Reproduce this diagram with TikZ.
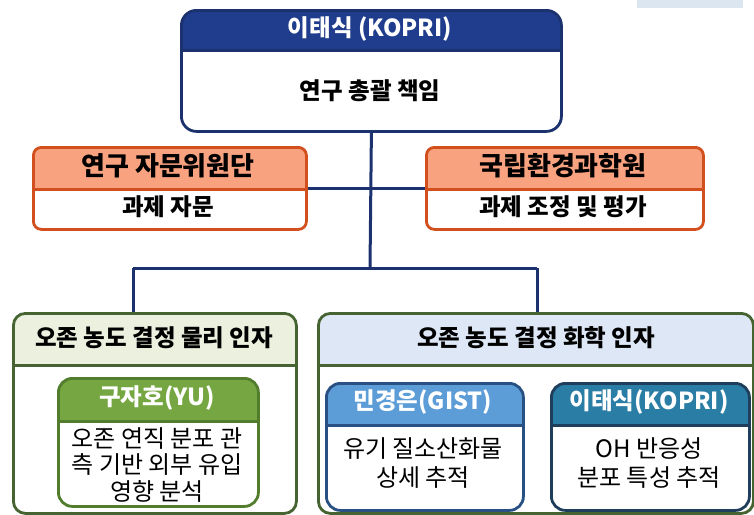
\documentclass[tikz,border=0pt]{standalone}
\usepackage{fontspec}
\setmainfont{Noto Sans CJK KR}
\usetikzlibrary{calc}
\definecolor{navy}{RGB}{28,50,110}
\definecolor{navyfill}{RGB}{32,60,140}
\definecolor{orbord}{RGB}{210,80,30}
\definecolor{orfill}{RGB}{248,162,128}
\definecolor{gbord}{RGB}{70,100,50}
\definecolor{gfill}{RGB}{235,241,222}
\definecolor{bfill}{RGB}{221,231,246}
\definecolor{igbord}{RGB}{82,125,45}
\definecolor{igfill}{RGB}{118,166,66}
\definecolor{mbord}{RGB}{40,80,130}
\definecolor{mfill}{RGB}{92,156,215}
\definecolor{lbord}{RGB}{30,62,92}
\definecolor{lfill}{RGB}{42,125,165}
\definecolor{artif}{RGB}{220,230,240}
\begin{document}
\begin{tikzpicture}[x=1pt,y=-1pt,
  hbox/.style n args={4}{anchor=north west, inner sep=0pt, draw=#1, fill=white,
    line width=2.8pt, rounded corners=#4,
    path picture={
      \fill[#2, sharp corners] ([shift={(-6pt,6pt)}]path picture bounding box.north west)
        rectangle ([shift={(6pt,-#3pt)}]path picture bounding box.north east);
      \draw[#1, line width=2.8pt, sharp corners] ([shift={(-6pt,-#3pt)}]path picture bounding box.north west)
        -- ([shift={(6pt,-#3pt)}]path picture bounding box.north east);
    }},
  hb/.style={font=\bfseries\fontsize{23.5}{26}\selectfont, inner sep=0pt},
  hbo/.style={font=\bfseries\fontsize{26}{28}\selectfont, inner sep=0pt},
  bt/.style={font=\fontsize{24}{26.5}\selectfont, inner sep=0pt, align=center},
  conn/.style={draw=navy, line width=3pt}
]
\useasboundingbox (0,0) rectangle (754,514);
\fill[artif] (637,0) rectangle (743,8);

% connector points
\coordinate (bus) at (370,268);
\coordinate (busL) at (133,268);
\coordinate (busR) at (537,268);
\coordinate (mid) at (370,188);

% top box
\node[hbox={navy}{navyfill}{40}{15pt}, minimum width=380pt, minimum height=121pt] (top) at (180,9) {};
\draw[conn] (top.south) -- (bus);
\draw[conn] (busL) -- (busR);

% advisory boxes
\node[hbox={orbord}{orfill}{42}{8pt}, minimum width=273pt, minimum height=82pt] (adv) at (32,146) {};
\node[hbox={orbord}{orfill}{42}{8pt}, minimum width=277pt, minimum height=82pt] (nier) at (425,146) {};
\draw[conn] (adv.east |- mid) -- (nier.west |- mid);

% bottom boxes
\node[hbox={gbord}{gfill}{52}{12pt}, minimum width=283pt, minimum height=200pt] (phys) at (12,312) {};
\node[hbox={gbord}{bfill}{52}{12pt}, minimum width=435pt, minimum height=200pt] (chem) at (317,312) {};
\draw[conn] (busL) -- (busL |- phys.north);
\draw[conn] (busR) -- (busR |- chem.north);

\node[hbox={igbord}{igfill}{43}{14pt}, minimum width=200pt, minimum height=128pt] (gu) at (57,377) {};
\node[hbox={mbord}{mfill}{42}{14pt}, minimum width=197pt, minimum height=127pt] (min) at (325,382) {};
\node[hbox={lbord}{lfill}{42}{14pt}, minimum width=198pt, minimum height=127pt] (lee) at (550,382) {};

% texts
\node[hb, white] (topH) at (370,29) {이태식 (KOPRI)};
\node[hb] (topB) at (370,91) {연구 총괄 책임};
\node[hbo] (advH) at (168,166) {연구 자문위원단};
\node[hb] (advB) at (168,207) {과제 자문};
\node[hbo] (nierH) at (563,166) {국립환경과학원};
\node[hb] (nierB) at (563,207) {과제 조정 및 평가};
\node[hb] (physH) at (154,338) {오존 농도 결정 물리 인자};
\node[hb] (chemH) at (536,338) {오존 농도 결정 화학 인자};
\node[hb, white] (guH) at (157,398) {구자호(YU)};
\node[bt] (guB) at (157,465) {오존 연직 분포 관\\측 기반 외부 유입\\영향 분석};
\node[hb, white] (minH) at (423,402) {민경은(GIST)};
\node[bt] (minB) at (423,463) {유기 질소산화물\\[2.5pt]상세 추적};
\node[hb, white] (leeH) at (649,402) {이태식(KOPRI)};
\node[bt] (leeB) at (649,463) {OH 반응성\\[2.5pt]분포 특성 추적};
\end{tikzpicture}
\end{document}
